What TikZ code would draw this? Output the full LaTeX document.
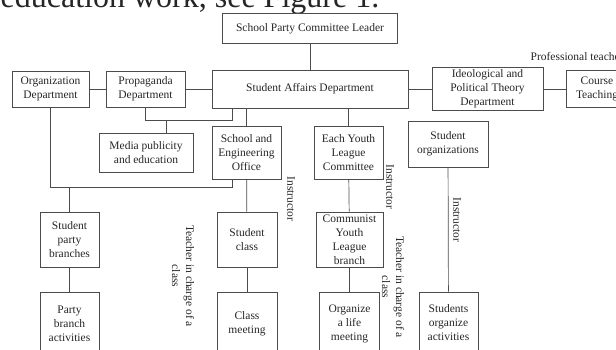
\documentclass[tikz,border=0pt]{standalone}
\usepackage{fontspec}
\setmainfont{Liberation Serif}
\usetikzlibrary{positioning}

\begin{document}
\begin{tikzpicture}[x=1pt,y=-1pt,node distance=25pt,line width=0.7pt]
  \tikzstyle{every node}=[font=\fontsize{11.5}{14}\selectfont, text=black!85]
  \tikzstyle{unit}=[draw=black!70, align=center, inner sep=1pt]
  \tikzstyle{note}=[align=center, rotate=-90, inner sep=0pt]

  \clip (0,0) rectangle (616,349);

  \node[anchor=base west, font=\fontsize{32}{36}\selectfont] (caption) at (-3,7.5) {education work, see Figure 1.};

  \node[unit, minimum width=175pt, minimum height=30pt] (leader)  at (310,28.5)  {School Party Committee Leader};
  \node[unit, minimum width=77pt,  minimum height=36pt] (org)     at (50.5,89)   {Organization\\Department};
  \node[unit, minimum width=79pt,  minimum height=36pt] (prop)    at (145.5,89)  {Propaganda\\Department};
  \node[unit, minimum width=196pt, minimum height=38pt] (affairs) at (310,89)    {Student Affairs Department};
  \node[unit, minimum width=111pt, minimum height=43pt] (ideo)    at (487.5,89)  {Ideological and\\Political Theory\\Department};
  \node[unit, minimum width=62pt,  minimum height=37pt] (course)  at (597,89)    {Course\\Teaching};
  \node[anchor=west] (prof) at (527,57) {Professional teachers};

  \node[unit, minimum width=94pt, minimum height=39pt] (media)   at (146,152.5)   {Media publicity\\and education};
  \node[unit, minimum width=69pt, minimum height=53pt] (office)  at (246.5,152.5) {School and\\Engineering\\Office};
  \node[unit, minimum width=69pt, minimum height=53pt] (youth)   at (348.5,152.5) {Each Youth\\League\\Committee};
  \node[unit, minimum width=80pt, minimum height=46pt] (studorg) at (448,144)     {Student\\organizations};

  \node[unit, minimum width=59pt, minimum height=55pt] (sbranch) at (69.5,239.5)  {Student\\party\\branches};
  \node[unit, minimum width=60pt, minimum height=55pt] (sclass)  at (247,239.5)   {Student\\class};
  \node[unit, minimum width=67pt, minimum height=55pt] (cylb)    at (349.5,239.5) {Communist\\Youth\\League\\branch};

  \node[unit, minimum width=59pt, minimum height=62pt] (pactive) [below=of sbranch] {Party\\branch\\activities};
  \node[unit, minimum width=60pt, minimum height=62pt] (cmeet)   [below=of sclass]  {Class\\meeting};
  \node[unit, minimum width=60pt, minimum height=62pt] (lmeet)   [below=of cylb]    {Organize\\a life\\meeting};
  \node[unit, minimum width=59pt, minimum height=62pt] (sactive) at (448.5,323)     {Students\\organize\\activities};

  \node[note] (instr1)   at (291,199) {Instructor};
  \node[note] (teacher1) at (183,276) {Teacher in charge of a\\class};
  \node[note] (instr2)   at (390,187) {Instructor};
  \node[note] (teacher2) at (393,287) {Teacher in charge of a\\class};
  \node[note] (instr3)   at (457,220) {Instructor};

  \coordinate (mediaJoin)  at (232,120);
  \coordinate (mediaTap)   at (166,120);
  \coordinate (officeJoin) at (232,187);

  \path[draw=black!70]
  (leader)  edge (affairs)
  (org)     edge (prop)
  (prop)    edge (affairs)
  (affairs) edge (ideo)
  (ideo)    edge (course)
  (sbranch) edge (pactive)
  (sclass)  edge (cmeet)
  (youth)   edge (cylb)
  (cylb)    edge (lmeet)
  (studorg) edge (sactive)
  (office)  edge (sclass)
  ;

  \draw[black!70] (prop) |- (mediaJoin) -- (mediaJoin |- affairs.south);
  \draw[black!70] (mediaTap) -- (mediaTap |- media.north);
  \draw[black!70] (org) |- (officeJoin) -- (officeJoin |- office.south);
  \draw[black!70] (sbranch) -- (sbranch |- officeJoin);
  \draw[black!70] (affairs.south -| office) -- (office);
  \draw[black!70] (affairs.south -| youth) -- (youth);
\end{tikzpicture}
\end{document}
